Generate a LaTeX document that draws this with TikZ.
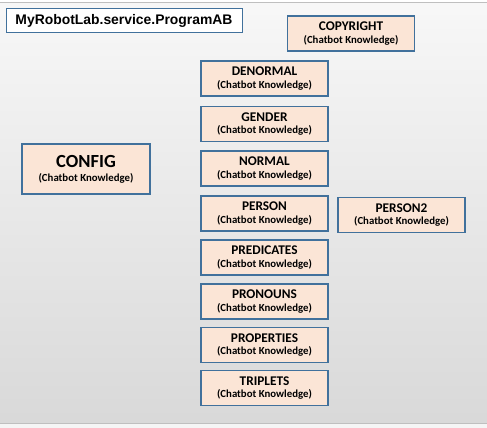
\documentclass[tikz,border=0pt]{standalone}
\usepackage{fontspec}
\setmainfont{Carlito}
\newfontfamily\titlefont{Liberation Sans}
\definecolor{boxfill}{HTML}{FBE5D6}
\definecolor{boxline}{HTML}{41719C}
\tikzset{
  kbox/.style={draw=boxline, line width=1.7pt, fill=boxfill, inner sep=0pt, align=center, font=\bfseries\fontsize{13.3}{14}\selectfont},
  std/.style={kbox, minimum width=127pt, minimum height=35pt}
}
\newcommand{\kb}[1]{#1\\[-1.5pt]{\fontsize{10.8}{12}\selectfont (Chatbot Knowledge)}}
\begin{document}
\begin{tikzpicture}[x=1pt,y=-1pt]
\useasboundingbox (0,0) rectangle (487,428);
\fill[white] (0,0) rectangle (487,428);
\shade[top color=white!97!black, bottom color=white!85!black] (0,3) rectangle (487,423);
\draw[line width=1pt, white!75!black] (0,2.5) -- (487,2.5);
\draw[line width=1pt, white!75!black] (0,423.5) -- (487,423.5);
\fill[white!96!black] (0,424) rectangle (487,428);
% title
\node[draw=boxline, line width=1pt, fill=white, minimum width=236pt, minimum height=24pt, inner sep=0pt, font=\titlefont\bfseries\fontsize{13.9}{16}\selectfont] (title) at (124,21) {MyRobotLab.service.ProgramAB};
% boxes
\node[std] (copyright) at (351,33.5) {\kb{COPYRIGHT}};
\node[std] (denormal) at (264.5,78.5) {\kb{DENORMAL}};
\node[std] (gender) at (264.5,124) {\kb{GENDER}};
\node[std] (normal) at (264.5,168.5) {\kb{NORMAL}};
\node[std] (person) at (264.5,213.5) {\kb{PERSON}};
\node[std] (person2) at (401.5,215) {\kb{PERSON2}};
\node[std] (predicates) at (264.5,257.5) {\kb{PREDICATES}};
\node[std] (pronouns) at (264.5,301.5) {\kb{PRONOUNS}};
\node[std] (properties) at (264.5,345) {\kb{PROPERTIES}};
\node[std] (triplets) at (264.5,388) {\kb{TRIPLETS}};
\node[kbox, minimum width=128pt, minimum height=50pt] (config) at (86,169) {{\fontsize{18.5}{20}\selectfont CONFIG}\\[0pt]{\fontsize{10.8}{12}\selectfont (Chatbot Knowledge)}};
\end{tikzpicture}
\end{document}
